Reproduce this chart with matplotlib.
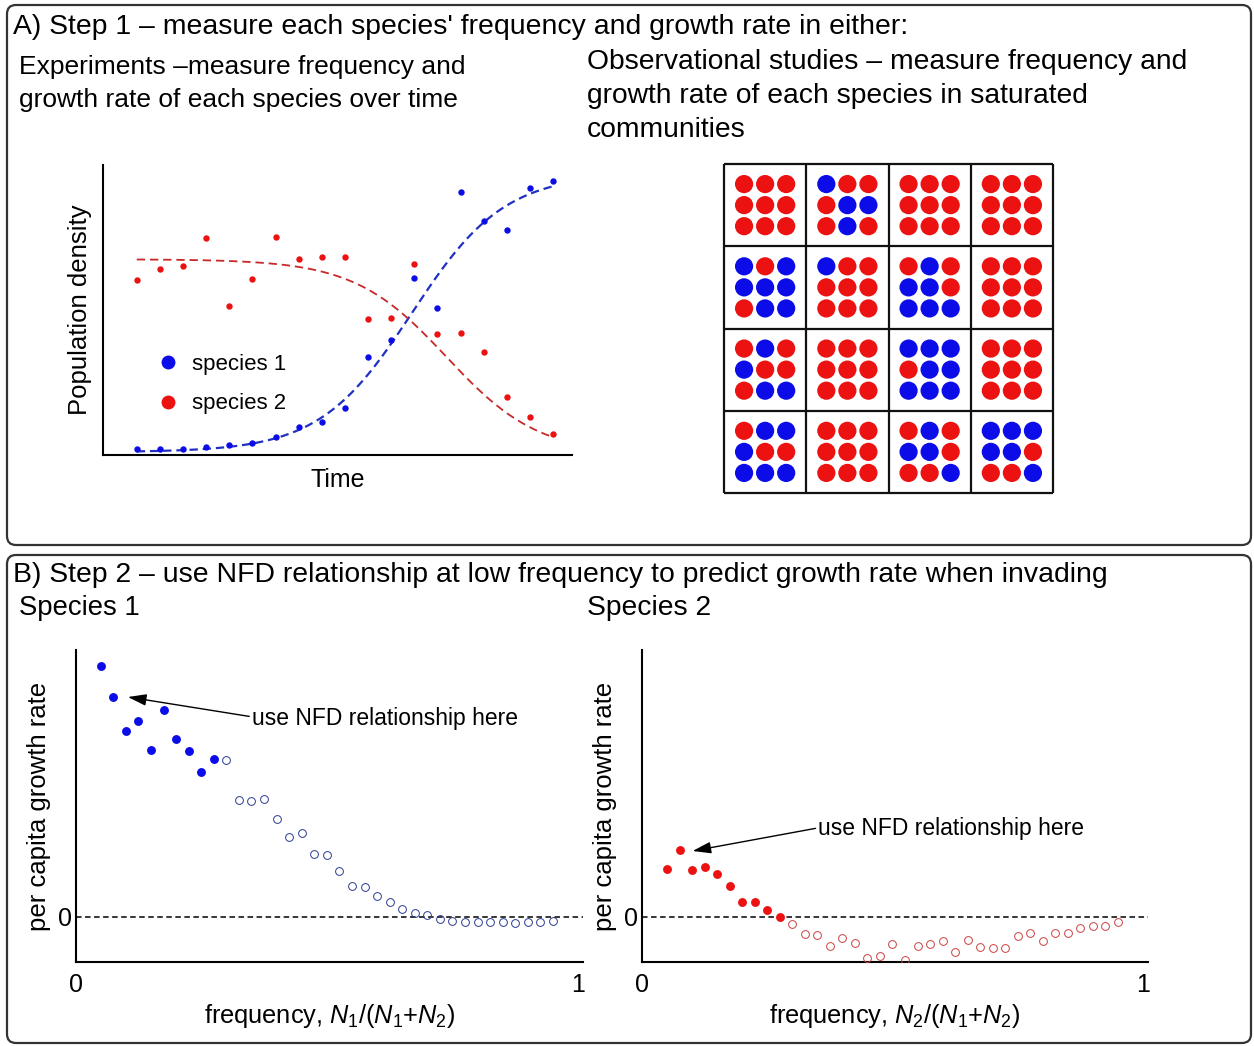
import numpy as np
import matplotlib
matplotlib.use("Agg")
import matplotlib.pyplot as plt
from matplotlib.patches import FancyBboxPatch
from matplotlib.lines import Line2D

plt.rcParams['font.family'] = ['Liberation Sans', 'DejaVu Sans']
plt.rcParams['mathtext.fontset'] = 'custom'
plt.rcParams['mathtext.rm'] = 'Liberation Sans'
plt.rcParams['mathtext.it'] = 'Liberation Sans:italic'
plt.rcParams['lines.scale_dashes'] = False

# ---- data ----
# panel A, experiment time series (population density, arbitrary units 0-100)
time_steps = [0, 1, 2, 3, 4, 5, 6, 7, 8, 9, 10, 11, 12, 13, 14, 15, 16, 17, 18]
density_sp1 = [2.0, 2.0, 2.0, 2.9, 3.4, 4.0, 6.1, 9.8, 11.4, 16.1,
               33.7, 39.7, 61.0, 50.8, 90.6, 80.8, 77.6, 92.2, 94.5]
density_sp2 = [60.3, 64.0, 65.3, 74.9, 51.4, 60.7, 75.2, 67.5, 68.4, 68.4,
               46.8, 47.3, 66.0, 41.7, 42.2, 35.4, 20.1, 13.0, 7.2]
# logistic fits (lower, upper, rate, midpoint)
fit_sp1 = (1.0, 97.0, 0.5, 11.9)
fit_sp2 = (0.0, 67.5, 0.5, 13.4)

# panel A, observational communities: 4x4 plots of 3x3 individuals (B = species 1, R = species 2)
communities = [
    ["RRRRRRRRR", "BRRRBBRBR", "RRRRRRRRR", "RRRRRRRRR"],
    ["BRBBBBRBB", "BRRRRRRRR", "RBRBBRBBB", "RRRRRRRRR"],
    ["RBRBRRRBB", "RRRRRRRRR", "BBBRBBBBB", "RRRRRRRRR"],
    ["RBBBRRBBB", "RRRRRRRRR", "RBRBBRRRB", "BBBBBRRRB"],
]

# panel B, per capita growth rate vs frequency
frequency = [0.05, 0.075, 0.1, 0.125, 0.15, 0.175, 0.2, 0.225, 0.25, 0.275,
             0.3, 0.325, 0.35, 0.375, 0.4, 0.425, 0.45, 0.475, 0.5, 0.525,
             0.55, 0.575, 0.6, 0.625, 0.65, 0.675, 0.7, 0.725, 0.75, 0.775,
             0.8, 0.825, 0.85, 0.875, 0.9, 0.925, 0.95]
growth_sp1 = [2.51, 2.20, 1.86, 1.96, 1.67, 2.07, 1.78, 1.66, 1.45, 1.58,
              1.57, 1.17, 1.16, 1.18, 0.98, 0.80, 0.84, 0.63, 0.62, 0.46,
              0.31, 0.30, 0.21, 0.15, 0.08, 0.04, 0.02, -0.02, -0.04, -0.05,
              -0.05, -0.05, -0.05, -0.06, -0.05, -0.05, -0.04]
growth_sp2 = [0.48, 0.67, 0.47, 0.50, 0.43, 0.31, 0.15, 0.15, 0.07, 0.00,
              -0.07, -0.17, -0.18, -0.29, -0.21, -0.26, -0.41, -0.39, -0.27, -0.43,
              -0.29, -0.27, -0.24, -0.35, -0.23, -0.30, -0.31, -0.31, -0.19, -0.16,
              -0.24, -0.16, -0.16, -0.11, -0.09, -0.09, -0.05]
n_low = 10  # points at low frequency (filled)

title_a = "A) Step 1 \u2013 measure each species' frequency and growth rate in either:"
text_exp = ["Experiments \u2013measure frequency and", "growth rate of each species over time"]
text_obs = ["Observational studies \u2013 measure frequency and",
            "growth rate of each species in saturated", "communities"]
title_b = "B) Step 2 \u2013 use NFD relationship at low frequency to predict growth rate when invading"

BLUE = '#0c0ce8'
RED = '#ec1212'

W, H = 1254, 1046
fig = plt.figure(figsize=(W / 100, H / 100), dpi=100)


def px_axes(x0, y0, x1, y1):
    # axes from pixel box (origin top left)
    return fig.add_axes([x0 / W, 1 - y1 / H, (x1 - x0) / W, (y1 - y0) / H])


def logistic(t, lo, hi, r, t0, rising=True):
    s = 1 if rising else -1
    return lo + (hi - lo) / (1 + np.exp(-s * r * (t - t0)))


# background with the two panel frames and headings
bg = fig.add_axes([0, 0, 1, 1])
bg.set_xlim(0, W)
bg.set_ylim(H, 0)
bg.axis('off')
for y0, y1 in [(5, 545), (555, 1043)]:
    bg.add_patch(FancyBboxPatch((7, y0), 1244, y1 - y0,
                                boxstyle='round,pad=0,rounding_size=9',
                                fc='none', ec='#333333', lw=1.6))
bg.text(13, 27, title_a, fontsize=20.4, va='center')
for i, line in enumerate(text_exp):
    bg.text(19, 67 + 33 * i, line, fontsize=19, va='center')
for i, line in enumerate(text_obs):
    bg.text(587, 62 + 34 * i, line, fontsize=20.3, va='center')
bg.text(13, 575, title_b, fontsize=20.4, va='center')
bg.text(19, 608, "Species 1", fontsize=19.8, va='center')
bg.text(587, 608, "Species 2", fontsize=20.3, va='center')

# ---- A: time series ----
ax = px_axes(103, 165, 572, 455)
t_fit = np.linspace(0, 18, 200)
ax.plot(t_fit, logistic(t_fit, *fit_sp1), color='#2030c0', lw=1.6, dashes=(6, 3.5), zorder=2)
ax.plot(t_fit, logistic(t_fit, *fit_sp2, rising=False), color='#c82828', lw=1.3, dashes=(6, 3.5), zorder=2)
ax.plot(time_steps, density_sp1, 'o', color=BLUE, ms=4.6, mec='none', zorder=3)
ax.plot(time_steps, density_sp2, 'o', color=RED, ms=4.6, mec='none', zorder=3)
ax.set_xlim(-1.46, 18.82)
ax.set_ylim(0, 100)
ax.set_xticks([])
ax.set_yticks([])
for s in ['top', 'right']:
    ax.spines[s].set_visible(False)
for s in ['left', 'bottom']:
    ax.spines[s].set_linewidth(1.5)
ax.set_xlabel("Time", fontsize=18, va='center')
ax.xaxis.set_label_coords(0.5, -0.086)
ax.set_ylabel("Population density", fontsize=18.5, va='center')
ax.yaxis.set_label_coords(-0.049, 0.5)
handles = [Line2D([], [], ls='none', marker='o', ms=10, color=BLUE, mec='none'),
           Line2D([], [], ls='none', marker='o', ms=10, color=RED, mec='none')]
ax.legend(handles, ["species 1", "species 2"], loc='center left',
          bbox_to_anchor=(0.115, 0.245), frameon=False, fontsize=16,
          handlelength=1.0, handletextpad=0.6, labelspacing=0.85,
          borderpad=0, borderaxespad=0)

# ---- A: observational grid ----
gx = px_axes(724, 164, 1053, 493)
gx.set_xlim(0, 4)
gx.set_ylim(4, 0)
gx.axis('off')
offs = [-0.256, 0.0, 0.256]
for r, row in enumerate(communities):
    for c, cell in enumerate(row):
        for k, who in enumerate(cell):
            gx.scatter(c + 0.5 + offs[k % 3], r + 0.5 + offs[k // 3], s=172,
                       color=BLUE if who == 'B' else RED, edgecolors='none', zorder=2)
gx.vlines([0, 1, 2, 3, 4], 0, 4, color='#111111', lw=1.6, clip_on=False)
gx.hlines([0, 1, 2, 3, 4], 0, 4, color='#111111', lw=1.6, clip_on=False)

# ---- B: growth rate vs frequency ----
panels = [
    ((75.7, 650, 583, 962), growth_sp1, BLUE, '#2a3a90', (0.104, 2.20), (0.351, 1.99),
     r'frequency, $N_1$/($N_1$+$N_2$)'),
    ((642, 650, 1148, 962), growth_sp2, RED, '#cc4040', (0.101, 0.66), (0.352, 0.88),
     r'frequency, $N_2$/($N_1$+$N_2$)'),
]
for box, growth, col, open_col, tip, txt, xlab in panels:
    bx = px_axes(*box)
    bx.axhline(0, color='black', lw=1.1, dashes=(4, 2.5), zorder=1)
    bx.plot(frequency[:n_low], growth[:n_low], 'o', color=col, ms=6.4, mec='none', zorder=3)
    bx.plot(frequency[n_low:], growth[n_low:], 'o', mfc='none', mec=open_col, ms=5.6, mew=0.7, zorder=3)
    bx.set_xlim(0, 1.01)
    bx.set_ylim(-0.45, 2.67)
    bx.set_xticks([0, 1])
    bx.set_xticklabels(['0', '1'])
    bx.set_yticks([0])
    bx.set_yticklabels(['0'])
    bx.tick_params(length=0, labelsize=18)
    bx.tick_params(axis='x', pad=8)
    bx.tick_params(axis='y', pad=3)
    for s in ['top', 'right']:
        bx.spines[s].set_visible(False)
    for s in ['left', 'bottom']:
        bx.spines[s].set_linewidth(1.5)
    bx.set_xlabel(xlab, fontsize=18.3, va='center')
    bx.xaxis.set_label_coords(0.5, -0.173)
    bx.set_ylabel("per capita growth rate", fontsize=18.5, va='center')
    bx.yaxis.set_label_coords(-0.073, 0.5)
    bx.annotate("use NFD relationship here", xy=tip, xytext=txt, fontsize=16.5,
                ha='left', va='center',
                arrowprops=dict(arrowstyle='-|>,head_length=0.7,head_width=0.22',
                                mutation_scale=16, color='black', lw=1.0,
                                relpos=(0, 0.55), shrinkA=0, shrinkB=0))

fig.savefig("out.png", dpi=100)
